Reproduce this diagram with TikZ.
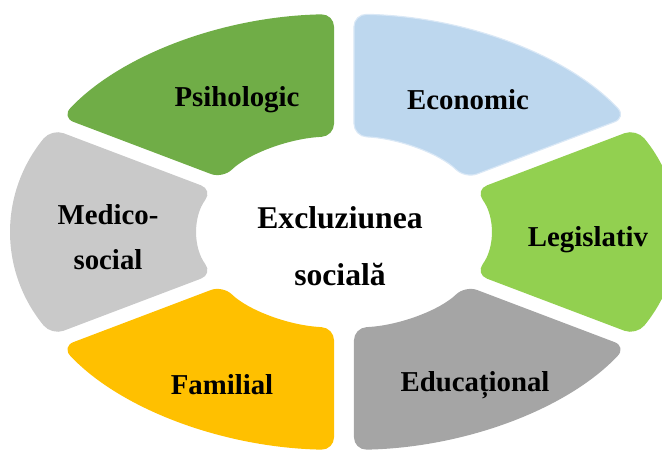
\documentclass[tikz,border=0pt]{standalone}
\usepackage{fontspec}
\setmainfont{Liberation Serif}
\usepackage{xcolor}
\definecolor{PsiGreen}{RGB}{112,173,71}
\definecolor{EconBlue}{RGB}{189,215,238}
\definecolor{EconEdge}{RGB}{218,232,246}
\definecolor{LegGreen}{RGB}{146,208,80}
\definecolor{EduGray}{RGB}{165,165,165}
\definecolor{FamGold}{RGB}{255,192,0}
\definecolor{MedGray}{RGB}{201,201,201}
\tikzset{
  segment/.style={rounded corners=9pt},
  label/.style={align=center, font=\bfseries\fontsize{20.5}{32}\selectfont},
  hub/.style={align=center, font=\bfseries\fontsize{22.5}{40.5}\selectfont}
}
% ring piece between two angles (unit circle, stretched by the scope)
\def\outr{1}
\def\inr{0.44}
\def\outgap{1.72}
\def\ingap{3.91}
\newcommand{\ringsector}[3]{%
  \path[segment,#3] ({#1+\outgap}:\outr)
    arc[start angle={#1+\outgap}, end angle={#2-\outgap}, radius=\outr]
    -- ({#2-\ingap}:\inr)
    arc[start angle={#2-\ingap}, end angle={#1+\ingap}, radius=\inr] -- cycle;}

\begin{document}
\begin{tikzpicture}
  \useasboundingbox (-8.6,-5.5) rectangle (7.95,5.8);
  \begin{scope}[xscale=8.3, yscale=5.45]
    \ringsector{30}{90}{fill=EconBlue, draw=EconEdge, line width=0.8pt}
    \ringsector{90}{150}{fill=PsiGreen}
    \ringsector{150}{210}{fill=MedGray}
    \ringsector{210}{270}{fill=FamGold}
    \ringsector{270}{330}{fill=EduGray}
    \ringsector{-30}{30}{fill=LegGreen}
  \end{scope}

  \node[label] (psiho) at (-2.675,3.3) {Psihologic};
  \node[label] (econ) at (3.1,3.3) {Economic};
  \node[label] (legis) at (6.1,-0.2) {Legislativ};
  \node[label] (educ) at (3.275,-3.825) {Educațional};
  \node[label] (famil) at (-3.05,-3.825) {Familial};
  \node[label] (medic) at (-5.9,-0.14) {Medico-\\social};
  \node[hub] (excl) at (-0.1,-0.35) {Excluziunea\\socială};
\end{tikzpicture}
\end{document}
